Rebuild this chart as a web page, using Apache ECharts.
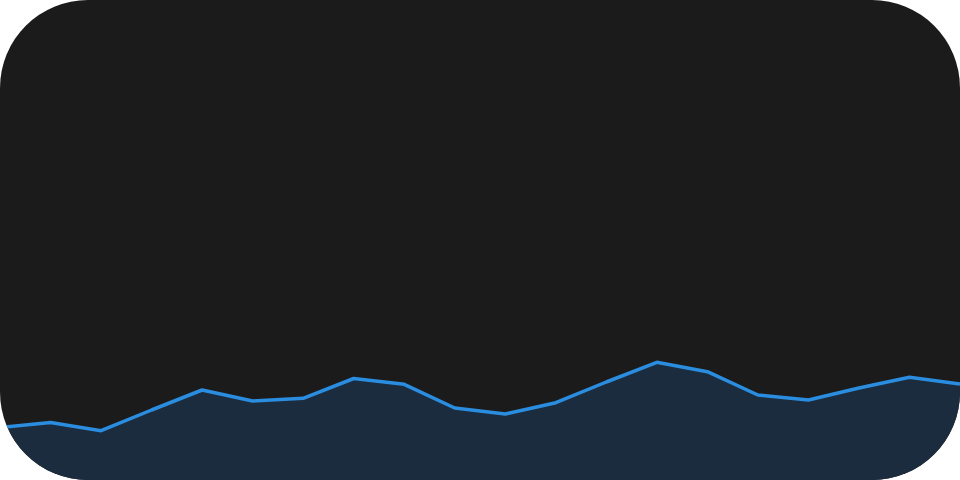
<!DOCTYPE html>
<html>
<head>
<meta charset="utf-8">
<script src="https://cdn.jsdelivr.net/npm/echarts@6/dist/echarts.min.js"></script>
<style>
html,body{margin:0;padding:0;background:#ffffff;}
#wrap{width:960px;height:480px;border-radius:88px;overflow:hidden;background:#1b1b1b;}
#chart{width:960px;height:480px;}
</style>
</head>
<body>
<div id="wrap"><div id="chart"></div></div>
<script>
const categories = ['1','2','3','4','5','6','7','8','9','10','11','12','13','14','15','16','17','18','19','20'];
const values = [52.6, 57.5, 49.3, 70, 90, 79, 81.7, 101.5, 95.7, 72, 66, 77.3, 98, 117.7, 108.3, 85, 80, 92, 102.7, 96];
const yMin = 0;
const yMax = 480;

const chart = echarts.init(document.getElementById('chart'), null, {renderer: 'canvas'});
chart.setOption({
  backgroundColor: 'transparent',
  animation: false,
  grid: {left: 0, right: 0, top: 0, bottom: 0},
  xAxis: {type: 'category', data: categories, boundaryGap: false, show: false},
  yAxis: {type: 'value', min: yMin, max: yMax, show: false},
  series: [{
    type: 'line',
    data: values,
    symbol: 'none',
    smooth: false,
    lineStyle: {color: '#2a8ddf', width: 3.5},
    itemStyle: {color: '#2a8ddf'},
    areaStyle: {color: '#1b2c3e', opacity: 1}
  }]
});
</script>
</body>
</html>
